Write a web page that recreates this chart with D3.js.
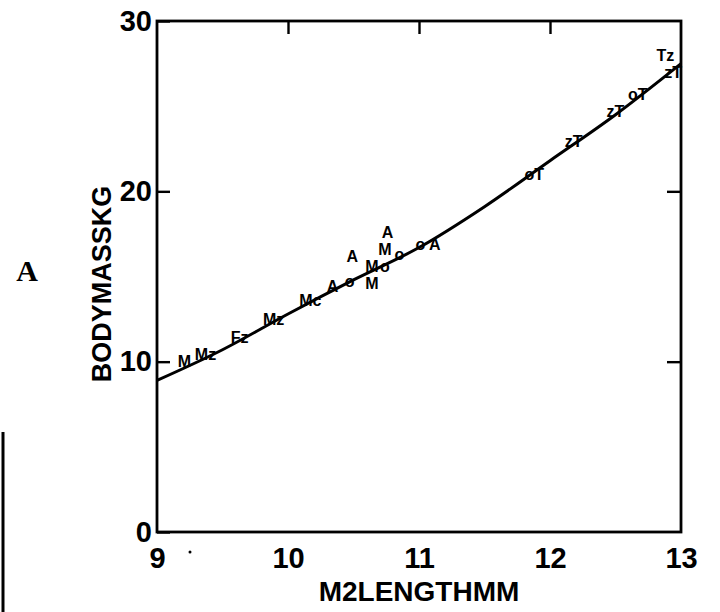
<!DOCTYPE html>
<html>
<head>
<meta charset="utf-8">
<script src="https://cdn.jsdelivr.net/npm/d3@7"></script>
<style>
  body { margin: 0; background: #fff; }
  svg { display: block; }
</style>
</head>
<body>
<svg id="chart" width="720" height="612"></svg>
<script>
// body mass vs M2 length - letters are the plotted symbols

const xTicks = [9, 10, 11, 12, 13];
const yTicks = [0, 10, 20, 30];

// fitted line
const fitLen = [9, 9.5, 10, 10.5, 11, 11.5, 12, 12.5, 13];
const fitMass = [8.9, 10.7, 12.8, 14.8, 16.7, 19.1, 21.8, 24.5, 27.5];

// points and their symbol text
const ptLen = [9.21, 9.37, 9.63, 9.89, 10.17, 10.34, 10.47, 10.64, 10.49, 10.64, 10.74, 10.85, 11.01, 11.12, 10.74, 10.76, 11.88, 12.18, 12.50, 12.67, 12.88, 12.94];
const ptMass = [10.0, 10.4, 11.4, 12.5, 13.6, 14.4, 14.7, 14.6, 16.2, 15.6, 15.6, 16.3, 16.9, 16.9, 16.6, 17.6, 21.0, 22.9, 24.7, 25.7, 28.0, 27.0];
const ptLabel = ['M', 'Mz', 'Fz', 'Mz', 'Mc', 'A', 'o', 'M', 'A', 'M', 'o', 'o', 'o', 'A', 'M', 'A', 'oT', 'zT', 'zT', 'oT', 'Tz', 'zT'];

const svg = d3.select('#chart');
const mLeft = 157, mRight = 681, mTop = 21, mBottom = 532;

const x = d3.scaleLinear().domain([9, 13]).range([mLeft, mRight]);
const y = d3.scaleLinear().domain([0, 30]).range([mBottom, mTop]);

const font = '"Liberation Sans", Arial, sans-serif';

// frame
svg.append('rect')
    .attr('x', mLeft).attr('y', mTop)
    .attr('width', mRight - mLeft).attr('height', mBottom - mTop)
    .attr('fill', 'none').attr('stroke', '#000').attr('stroke-width', 2.8);

// left axis: inward ticks + labels
const gl = svg.append('g')
    .attr('transform', `translate(${mLeft},0)`)
    .call(d3.axisLeft(y).tickValues(yTicks).tickSizeInner(-13).tickSizeOuter(0).tickPadding(5));

// bottom axis: labels only
const gb = svg.append('g')
    .attr('transform', `translate(0,${mBottom})`)
    .call(d3.axisBottom(x).tickValues(xTicks).tickFormat(d3.format('d')).tickSize(0).tickPadding(15));

// top + right: ticks only
const gt = svg.append('g')
    .attr('transform', `translate(0,${mTop})`)
    .call(d3.axisTop(x).tickValues([10, 11, 12]).tickSizeInner(-13).tickSizeOuter(0).tickFormat(''));
const gr = svg.append('g')
    .attr('transform', `translate(${mRight},0)`)
    .call(d3.axisRight(y).tickValues([10, 20]).tickSizeInner(-14).tickSizeOuter(0).tickFormat(''));

[gl, gb, gt, gr].forEach(g => {
    g.select('.domain').remove();
    g.selectAll('line').attr('stroke', '#000').attr('stroke-width', 2.4);
    g.selectAll('text')
        .attr('fill', '#000')
        .style('font-family', font)
        .style('font-weight', 'bold')
        .style('font-size', '29px');
});
gb.selectAll('line').remove();

// fitted curve
const line = d3.line()
    .x((d, i) => x(fitLen[i]))
    .y(d => y(d))
    .curve(d3.curveMonotoneX);

svg.append('path')
    .datum(fitMass)
    .attr('d', line)
    .attr('fill', 'none')
    .attr('stroke', '#000')
    .attr('stroke-width', 3);

// symbols
svg.append('g').selectAll('text')
    .data(ptLabel)
    .enter()
    .append('text')
    .attr('x', (d, i) => x(ptLen[i]))
    .attr('y', (d, i) => y(ptMass[i]))
    .attr('text-anchor', 'middle')
    .attr('dominant-baseline', 'central')
    .style('font-family', font)
    .style('font-weight', 'bold')
    .style('font-size', '16px')
    .text(d => d);

// axis titles
svg.append('text')
    .attr('x', (mLeft + mRight) / 2)
    .attr('y', 601)
    .attr('text-anchor', 'middle')
    .style('font-family', font)
    .style('font-weight', 'bold')
    .style('font-size', '28px')
    .text('M2LENGTHMM');

svg.append('text')
    .attr('transform', 'translate(111,284) rotate(-90)')
    .attr('text-anchor', 'middle')
    .style('font-family', font)
    .style('font-weight', 'bold')
    .style('font-size', '27px')
    .text('BODYMASSKG');

// panel letter
svg.append('text')
    .attr('x', 27)
    .attr('y', 281)
    .attr('text-anchor', 'middle')
    .style('font-family', '"Liberation Serif", "Times New Roman", serif')
    .style('font-weight', 'bold')
    .style('font-size', '30px')
    .text('A');

// stray dot near the 9 label, and the edge of the next panel
svg.append('circle').attr('cx', 190).attr('cy', 552).attr('r', 1.5).attr('fill', '#000');
svg.append('line')
    .attr('x1', 3).attr('y1', 432).attr('x2', 3).attr('y2', 612)
    .attr('stroke', '#000').attr('stroke-width', 3);
</script>
</body>
</html>
